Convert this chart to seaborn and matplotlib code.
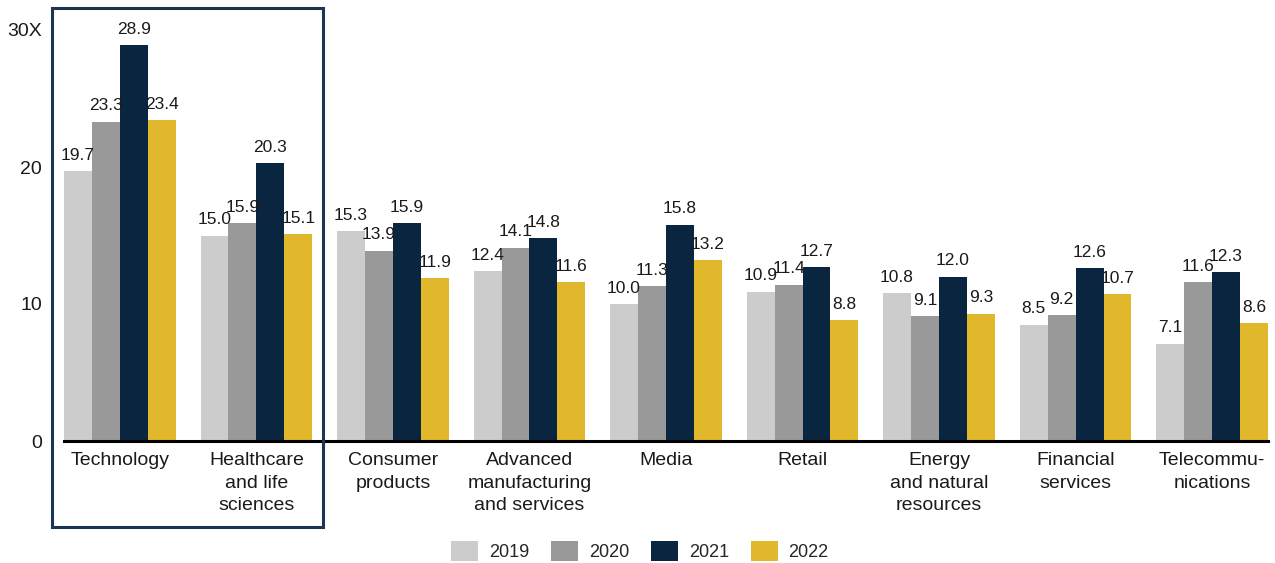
import matplotlib
matplotlib.use("Agg")
import matplotlib.pyplot as plt
import seaborn as sns
import pandas as pd
from matplotlib.patches import Rectangle

categories = ["Technology", "Healthcare\nand life\nsciences", "Consumer\nproducts",
              "Advanced\nmanufacturing\nand services", "Media", "Retail",
              "Energy\nand natural\nresources", "Financial\nservices", "Telecommu-\nnications"]
years = ["2019", "2020", "2021", "2022"]
v2019 = [19.7, 15.0, 15.3, 12.4, 10.0, 10.9, 10.8, 8.5, 7.1]
v2020 = [23.3, 15.9, 13.9, 14.1, 11.3, 11.4, 9.1, 9.2, 11.6]
v2021 = [28.9, 20.3, 15.9, 14.8, 15.8, 12.7, 12.0, 12.6, 12.3]
v2022 = [23.4, 15.1, 11.9, 11.6, 13.2, 8.8, 9.3, 10.7, 8.6]
yticks = [0, 10, 20, 30]
ytick_labels = ["0", "10", "20", "30X"]
colors = ["#cccccc", "#999999", "#0a2540", "#e1b82b"]

rows = []
for y, vals in zip(years, [v2019, v2020, v2021, v2022]):
    for c, v in zip(categories, vals):
        rows.append({"category": c, "year": y, "value": v})
df = pd.DataFrame(rows)

sns.set_style("white")
plt.rcParams["font.family"] = ["Liberation Sans", "DejaVu Sans"]

fig = plt.figure(figsize=(12.75, 5.63), dpi=100)
ax = fig.add_axes([64/1275, 122/563, (1268-64)/1275, (441-30)/563])

sns.barplot(data=df, x="category", y="value", hue="year", palette=colors,
            width=0.82, gap=0, saturation=1, ax=ax, legend=True, errorbar=None,
            linewidth=0, edgecolor="none")

for cont in ax.containers:
    labels = ax.bar_label(cont, fmt="%.1f", padding=6, fontsize=12.5, color="#1a1a1a")
    for t in labels:
        t.set_clip_on(False)

ax.set_xlim(-0.41, 8.41)
ax.set_ylim(0, 30)
ax.set_yticks(yticks)
ax.set_yticklabels(ytick_labels)
ax.set_xlabel("")
ax.set_ylabel("")
for s in ["top", "right", "left"]:
    ax.spines[s].set_visible(False)
ax.spines["bottom"].set_color("black")
ax.spines["bottom"].set_linewidth(2.2)
ax.spines["bottom"].set_zorder(5)
ax.tick_params(axis="y", length=0, pad=16, labelsize=14, labelcolor="#1a1a1a")
ax.tick_params(axis="x", length=0, pad=8, labelsize=14, labelcolor="#1a1a1a")
for t in ax.get_xticklabels():
    t.set_linespacing(1.42)

ax.legend(loc="center", bbox_to_anchor=(640/1275, 1 - 551/563), bbox_transform=fig.transFigure,
          ncol=4, frameon=False, fontsize=13, handlelength=1.5, handleheight=1.35,
          handletextpad=0.6, columnspacing=1.2)

fig.patches.append(Rectangle((52/1275, 1 - 527/563), 271/1275, 519/563,
                             transform=fig.transFigure, fill=False,
                             edgecolor="#1c3553", linewidth=2.2, zorder=10))

fig.savefig("out.png", dpi=100)
